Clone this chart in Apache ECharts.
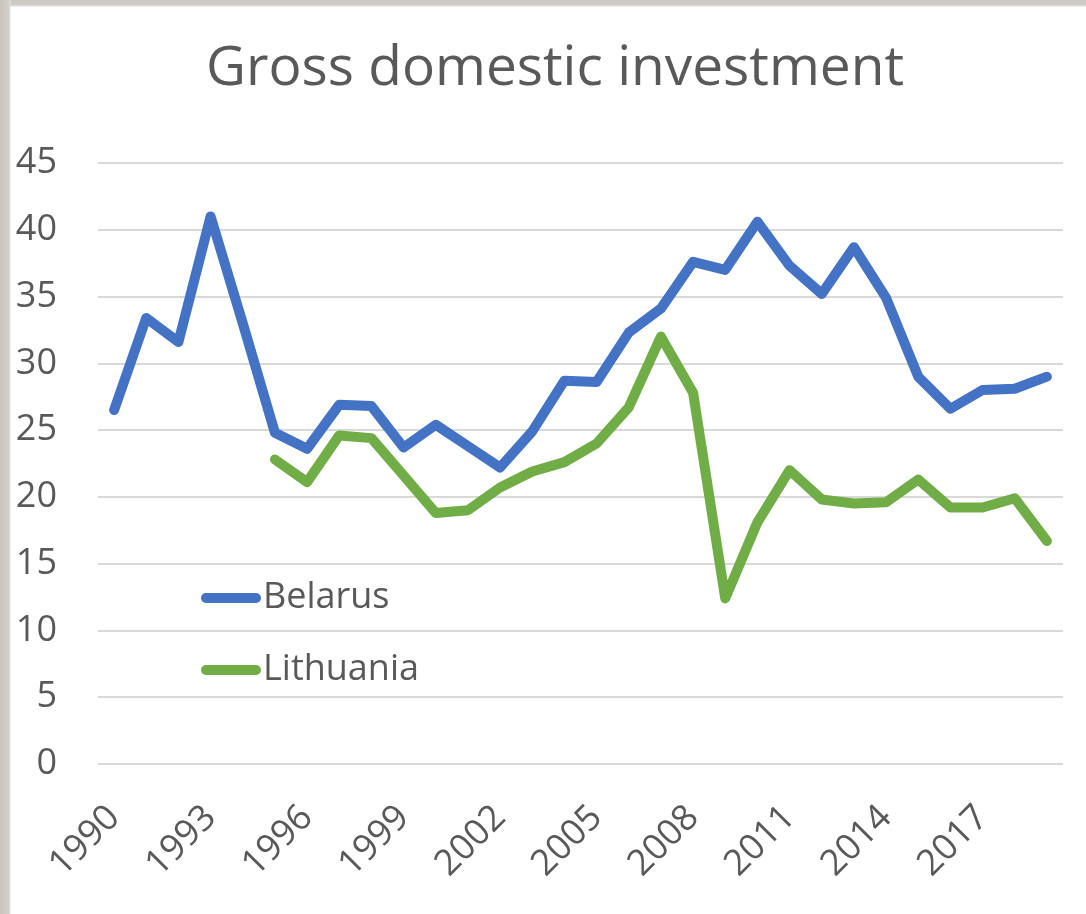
<!DOCTYPE html>
<html>
<head>
<meta charset="utf-8">
<script src="https://cdn.jsdelivr.net/npm/echarts@6/dist/echarts.min.js"></script>
<style>
  html, body { margin: 0; padding: 0; }
  body {
    width: 1086px; height: 914px; overflow: hidden;
    background:
      linear-gradient(to right, #c6c4bd 0, #d3d0ca 9px, #e4e4e4 10px, rgba(255,255,255,0) 11px),
      linear-gradient(to bottom, #cbc8c1 0, #d1cec8 5px, #e4e4e4 6px, #ffffff 7px);
  }
  #chart { width: 1086px; height: 914px; }
</style>
</head>
<body>
<div id="chart"></div>
<script>
// --- data ---
var years = [];
for (var y = 1990; y <= 2019; y++) years.push(String(y));

var belarus = [26.5, 33.4, 31.6, 41.0, 33.0, 24.8, 23.6, 26.9, 26.8, 23.7,
               25.4, 23.8, 22.2, 24.9, 28.7, 28.6, 32.3, 34.1, 37.6, 37.0,
               40.6, 37.3, 35.2, 38.7, 34.9, 29.0, 26.6, 28.0, 28.1, 29.0];

var lithuania = [null, null, null, null, null, 22.8, 21.1, 24.6, 24.4, 21.6,
                 18.8, 19.0, 20.7, 21.9, 22.6, 24.0, 26.7, 32.0, 27.8, 12.4,
                 18.1, 22.0, 19.8, 19.5, 19.6, 21.3, 19.2, 19.2, 19.9, 16.7];

var yTicks = { min: 0, max: 45, step: 5 };

var ink = '#595959';
var font = '"Open Sans", sans-serif';
var capsule = 'path://M5,0 L55,0 A5,5 0 0 1 55,10 L5,10 A5,5 0 0 1 5,0 Z';

(function() {
  var chart = echarts.init(document.getElementById('chart'), null, { renderer: 'canvas' });
  chart.setOption({
    backgroundColor: 'transparent',
    title: {
      text: 'Gross domestic investment',
      left: 201,
      top: 37,
      textStyle: { color: ink, fontSize: 55, fontWeight: 'normal', fontFamily: font }
    },
    legend: {
      orient: 'vertical',
      left: 196,
      top: 575,
      itemWidth: 62,
      itemHeight: 10,
      itemGap: 36,
      icon: capsule,
      textStyle: { color: ink, fontSize: 36, fontFamily: font, padding: [0, 0, 0, -4] },
      data: ['Belarus', 'Lithuania']
    },
    grid: { left: 98, right: 23, top: 163, bottom: 150, containLabel: false },
    xAxis: {
      type: 'category',
      data: years,
      boundaryGap: true,
      axisLine: { show: false },
      axisTick: { show: false },
      axisLabel: {
        interval: 2,
        rotate: 45,
        margin: 48,
        color: ink,
        fontSize: 36,
        fontFamily: font
      }
    },
    yAxis: {
      type: 'value',
      min: yTicks.min,
      max: yTicks.max,
      interval: yTicks.step,
      axisLine: { show: false },
      axisTick: { show: false },
      splitLine: { lineStyle: { color: '#d9d9d9', width: 2 } },
      axisLabel: { color: ink, fontSize: 36, fontFamily: font, margin: 41 }
    },
    series: [
      {
        name: 'Belarus',
        type: 'line',
        data: belarus,
        symbol: 'none',
        color: '#4472c4',
        lineStyle: { width: 10, color: '#4472c4', cap: 'round', join: 'round' }
      },
      {
        name: 'Lithuania',
        type: 'line',
        data: lithuania,
        symbol: 'none',
        color: '#70ad47',
        lineStyle: { width: 10, color: '#70ad47', cap: 'round', join: 'round' }
      }
    ],
    animation: false
  });

  window.addEventListener('resize', function() { chart.resize(); });
})();
</script>
</body>
</html>
